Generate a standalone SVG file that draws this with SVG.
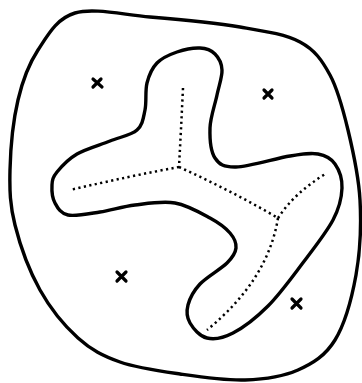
<svg xmlns="http://www.w3.org/2000/svg" width="362" height="383" viewBox="0 0 362 383">
<style>
.curve{fill:none;stroke:#000;stroke-width:3.4;stroke-linejoin:round}
.dot{fill:none;stroke:#000;stroke-width:2.5;stroke-dasharray:2.2 3.4;stroke-linecap:butt}
.x{stroke:#000;stroke-width:3.2;stroke-linecap:round}
</style>
<rect width="362" height="383" fill="#fff"/>
<g id="outer">
<path class="curve" d="M75,13 C93.7,7.5 122.5,14.7 150,17 C177.5,19.3 215,22.8 240,27 C265,31.2 285,34 300,42 C315,50 322,60.3 330,75 C338,89.7 343,109.2 348,130 C353,150.8 358.7,175.8 360,200 C361.3,224.2 360.2,251.7 356,275 C351.8,298.3 344.7,324.2 335,340 C325.3,355.8 313,363.3 298,370 C283,376.7 264.7,379.3 245,380 C225.3,380.7 200.8,377 180,374 C159.2,371 137,368 120,362 C103,356 91.3,350 78,338 C64.7,326 50.5,308.8 40,290 C29.5,271.2 20,245 15,225 C10,205 9.5,190.8 10,170 C10.5,149.2 13.3,120 18,100 C22.7,80 28.5,64.5 38,50 C47.5,35.5 56.3,18.5 75,13 Z"/>
</g>
<g id="inner">
<path class="curve" d="M200,48 C206.3,48.3 211.3,50.3 215,54 S221.7,63.2 222,70 S219,85.3 217,95 S210.3,117.5 210,128 S210.7,151.5 215,158 S223.5,167.3 236,167 S276.3,158.2 290,156 S310.5,152.7 318,154 S331,158.3 335,164 S342.3,178.7 342,188 S339.7,207.3 333,220 S312.8,249.7 302,264 S279.5,294.5 268,306 S243.2,327.7 233,333 S214.2,339.7 207,338 S193.2,328.5 190,323 S186.3,311.5 188,305 S193.5,291 200,284 S221,269 227,263 S235.5,253 236,248 S234.3,238 230,233 S219.2,223 210,218 S187.5,205.2 175,203 S147.5,203.5 135,205 S111.2,210.3 100,212 S75.5,216.5 68,215 S57.7,208 55,203 S51.7,190.2 52,185 S52.8,177.2 57,172 S68.2,159.2 77,154 S100,145 110,141 S131.2,135.2 137,130 S143.3,117.8 145,110 S145,90.8 147,83 S152,68.2 157,63 S169.8,54.5 177,52 S193.7,47.7 200,48 Z"/>
</g>
<g id="skeleton">
<path class="dot" d="M183,88 Q181,130 179,167"/>
<path class="dot" d="M179,167 Q130,176 70,190"/>
<path class="dot" d="M179,167 Q230,190 278,218"/>
<path class="dot" d="M278,218 Q295,192 327,173"/>
<path class="dot" d="M278,218 Q268,280 207,330"/>
</g>
<g id="crosses">
<g id="x1"><path class="x" d="M93,79 L102,87 M101,79 L93,87"/></g>
<g id="x2"><path class="x" d="M264,90 L272,98 M272,90 L264,98"/></g>
<g id="x3"><path class="x" d="M117,272 L126,281 M126,272 L117,281"/></g>
<g id="x4"><path class="x" d="M292,299 L301,308 M301,299 L292,308"/></g>
</g>
</svg>
